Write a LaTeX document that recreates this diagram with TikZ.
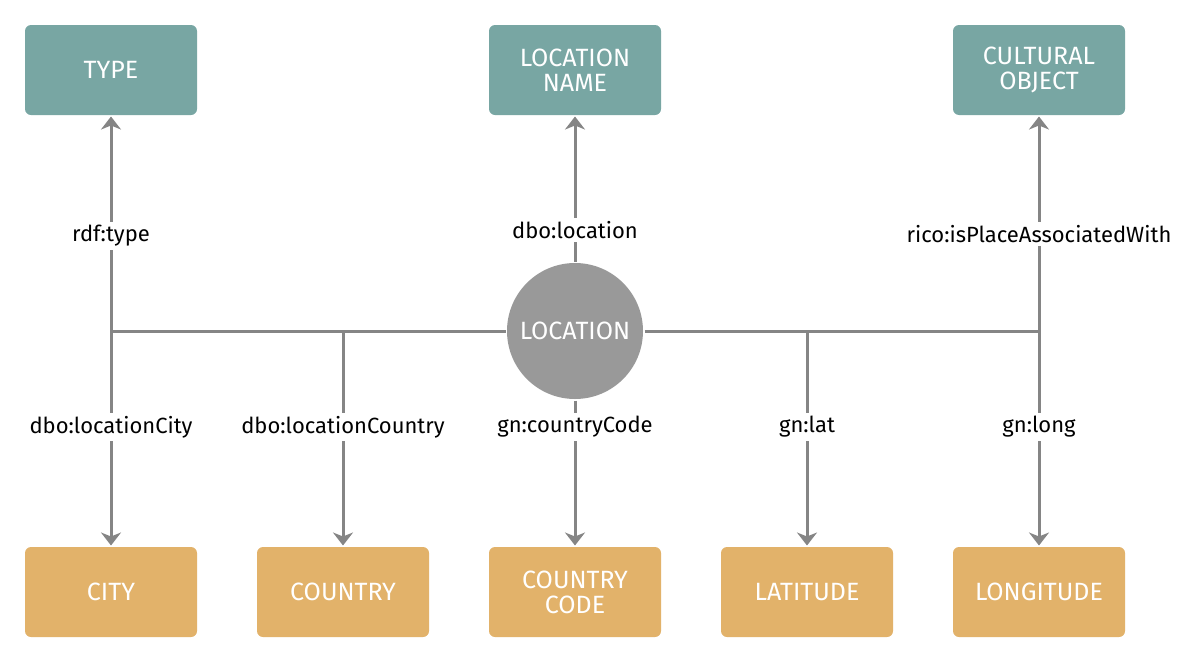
\documentclass[tikz,border=0pt]{standalone}
\usepackage{fontspec}
\setmainfont{Fira Sans}
\usetikzlibrary{arrows.meta}
\definecolor{teal}{HTML}{78A6A3}
\definecolor{ochre}{HTML}{E2B26A}
\definecolor{disc}{HTML}{999999}
\definecolor{wire}{HTML}{858585}
\begin{document}
\begin{tikzpicture}[x=1pt, y=-1pt, line width=3pt,
    box/.style = {rounded corners=6pt, minimum width=172pt, minimum height=90pt, text=white, align=center, font=\fontsize{25}{25}\selectfont},
    upper/.style = {box, fill=teal},
    lower/.style = {box, fill=ochre},
    hub/.style = {circle, fill=disc, minimum size=136pt, text=white, font=\fontsize{25}{25}\selectfont},
    rel/.style = {fill=white, inner sep=3pt, font=\fontsize{22}{24}\selectfont},
    link/.style = {draw=wire, -{Stealth[length=13pt, width=20pt, inset=4pt]}}]
    \useasboundingbox (0,0) rectangle (1200,662);

    \node[hub] (loc) at (575,331) {LOCATION};

    \node[upper] (type) at (111,70) {TYPE};
    \node[upper] (name) at (575,70) {LOCATION\\NAME};
    \node[upper] (object) at (1039,70) {CULTURAL\\OBJECT};

    \node[lower] (city) at (111,592) {CITY};
    \node[lower] (country) at (343,592) {COUNTRY};
    \node[lower] (code) at (575,592) {COUNTRY\\CODE};
    \node[lower] (lat) at (807,592) {LATITUDE};
    \node[lower] (long) at (1039,592) {LONGITUDE};

    \coordinate (jcity) at (111,331);
    \coordinate (jcountry) at (343,331);
    \coordinate (jlat) at (807,331);
    \coordinate (jlong) at (1039,331);

    \draw[wire] (loc) -- (jcity);
    \draw[wire] (loc) -- (jlong);

    \draw[link] (jcity) -- (type);
    \draw[link] (loc) -- (name);
    \draw[link] (jlong) -- (object);
    \draw[link] (jcity) -- (city);
    \draw[link] (jcountry) -- (country);
    \draw[link] (loc) -- (code);
    \draw[link] (jlat) -- (lat);
    \draw[link] (jlong) -- (long);

    \node[rel] (ltype) at (111,236) {rdf:type};
    \node[rel] (lname) at (575,230) {dbo:location};
    \node[rel] (lobject) at (1039,234) {rico:isPlaceAssociatedWith};
    \node[rel] (lcity) at (111,427) {dbo:locationCity};
    \node[rel] (lcountry) at (343,427) {dbo:locationCountry};
    \node[rel] (lcode) at (575,427) {gn:countryCode};
    \node[rel] (llat) at (807,427) {gn:lat};
    \node[rel] (llong) at (1039,427) {gn:long};
\end{tikzpicture}
\end{document}
